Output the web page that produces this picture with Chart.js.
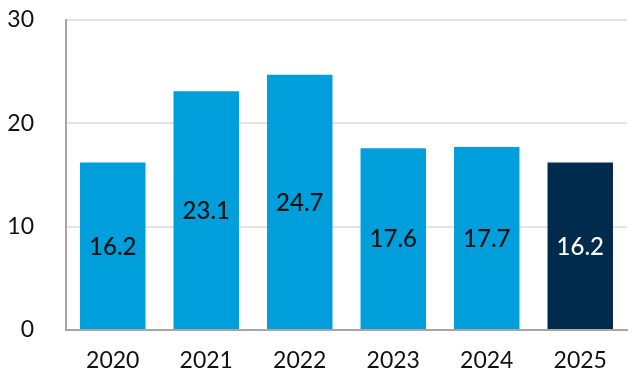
<!DOCTYPE html>
<html><head><meta charset="utf-8">
<script src="https://cdn.jsdelivr.net/npm/chart.js@4"></script>
<style>html,body{margin:0;padding:0;background:#fff}#wrap{width:638px;height:384px}</style>
</head><body><div id="wrap"><canvas id="c" width="638" height="384"></canvas></div>
<script>
const categories = ['2020','2021','2022','2023','2024','2025'];
const values = [16.2, 23.1, 24.7, 17.6, 17.7, 16.2];
const yTicks = [0, 10, 20, 30];
const barColors = ['#009FDB','#009FDB','#009FDB','#009FDB','#009FDB','#002B4C'];
const labelColors = ['#111111','#111111','#111111','#111111','#111111','#ffffff'];

const FONT = 'Lato, "Open Sans", sans-serif';

const barLabels = {
  id: 'barLabels',
  afterDatasetsDraw(chart) {
    const ctx = chart.ctx;
    const meta = chart.getDatasetMeta(0);
    ctx.save();
    ctx.font = '500 24px ' + FONT;
    ctx.textAlign = 'center';
    ctx.textBaseline = 'middle';
    meta.data.forEach((el, i) => {
      const y = (el.y + el.base) / 2;
      ctx.fillStyle = labelColors[i];
      ctx.fillText(values[i].toFixed(1), el.x, y + 1);
    });
    ctx.restore();
  }
};

new Chart(document.getElementById('c'), {
  type: 'bar',
  data: {
    labels: categories,
    datasets: [{
      data: values,
      backgroundColor: barColors,
      borderWidth: 0,
      categoryPercentage: 0.7,
      barPercentage: 1.0
    }]
  },
  options: {
    responsive: false,
    animation: false,
    layout: { padding: { left: 0, right: 11, top: 20, bottom: 0 } },
    plugins: { legend: { display: false }, tooltip: { enabled: false } },
    scales: {
      x: {
        grid: { display: false, drawTicks: false },
        border: { display: true, color: '#a6a6a6', width: 2 },
        ticks: { color: '#111', font: { family: FONT, size: 23 }, padding: 17 },
        afterFit(s) { s.height = 54; s.paddingLeft = 0; s.paddingRight = 0; }
      },
      y: {
        min: 0, max: 30,
        afterBuildTicks(s) { s.ticks = yTicks.map(v => ({ value: v })); },
        grid: { color: '#e3e3e3', lineWidth: 2, drawTicks: false },
        border: { display: true, color: '#a6a6a6', width: 2 },
        ticks: { color: '#111', font: { family: FONT, size: 23 }, padding: 32 },
        afterFit(s) { s.width = 66; s.paddingTop = 0; s.paddingBottom = 0; }
      }
    }
  },
  plugins: [barLabels]
});
</script></body></html>
